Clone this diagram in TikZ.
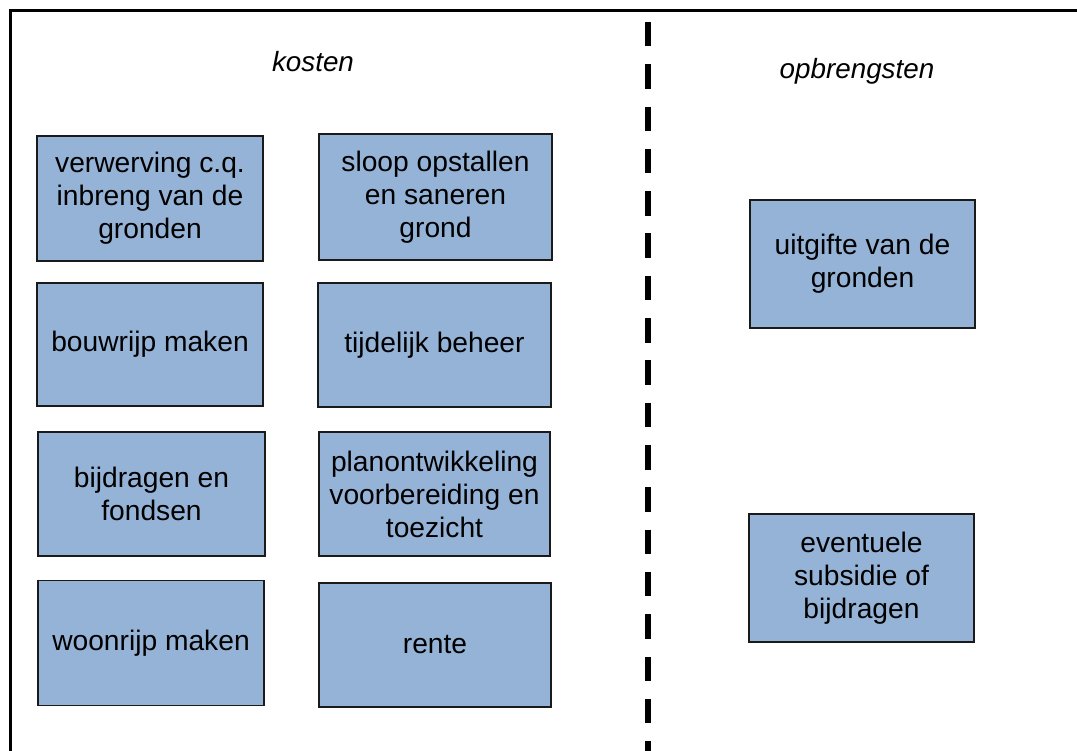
\documentclass[tikz,border=0pt]{standalone}
\usepackage{fontspec}
\setmainfont{Liberation Sans}
\definecolor{boxfill}{HTML}{95B3D7}
\definecolor{boxline}{HTML}{1A1A1A}
\tikzset{
  item/.style={draw=boxline, line width=1.4pt, fill=boxfill, align=center,
    inner sep=0pt, font=\fontsize{28.2}{33}\selectfont},
  heading/.style={font=\fontsize{27.8}{32}\selectfont\itshape},
  divider/.style={line width=6.5pt, dash pattern=on 24.5pt off 17.8pt},
}
\newcommand{\itembox}[6]{%
  \node[item, minimum width=#3pt, minimum height=#4pt] (#5) at (#1,#2) {#6};}
\begin{document}
\begin{tikzpicture}[x=1pt, y=-1pt]
  \useasboundingbox (0,0) rectangle (1077,751);
  \clip (0,0) rectangle (1077,751);
  % outer frame, open towards the right and bottom
  \coordinate (fbl) at (10,770);
  \coordinate (ftl) at (10,11);
  \coordinate (ftr) at (1100,11);
  \draw[line width=3pt] (fbl) -- (ftl) -- (ftr);
  % dividing line between costs and revenues
  \coordinate (dtop) at (648,22);
  \coordinate (dbot) at (648,780);
  \draw[divider] (dtop) -- (dbot);
  % headings
  \node[heading] (kosten) at (313,62) {kosten};
  \node[heading] (opbr) at (857,71) {opbrengsten};
  % cost items
  \itembox{150}{198.5}{226}{125}{verw}{verwerving c.q.\\inbreng van de\\gronden}
  \itembox{435.5}{197}{233}{126}{sloop}{sloop opstallen\\en saneren\\grond}
  \itembox{150}{344.5}{226}{123}{bouw}{bouwrijp maken}
  \itembox{434.5}{345}{233}{124}{beheer}{tijdelijk beheer}
  \itembox{151.5}{494}{227}{124}{bijdr}{bijdragen en\\fondsen}
  \itembox{434.5}{494}{231}{124}{plan}{planontwikkeling\\voorbereiding en\\toezicht}
  \itembox{151}{643}{226}{125}{woon}{woonrijp maken}
  \itembox{435}{645}{232}{124}{rente}{rente}
  % revenue items
  \itembox{862.5}{264}{225}{128}{uitg}{uitgifte van de\\gronden}
  \itembox{861.5}{578}{225}{128}{subs}{eventuele\\subsidie of\\bijdragen}
\end{tikzpicture}
\end{document}
